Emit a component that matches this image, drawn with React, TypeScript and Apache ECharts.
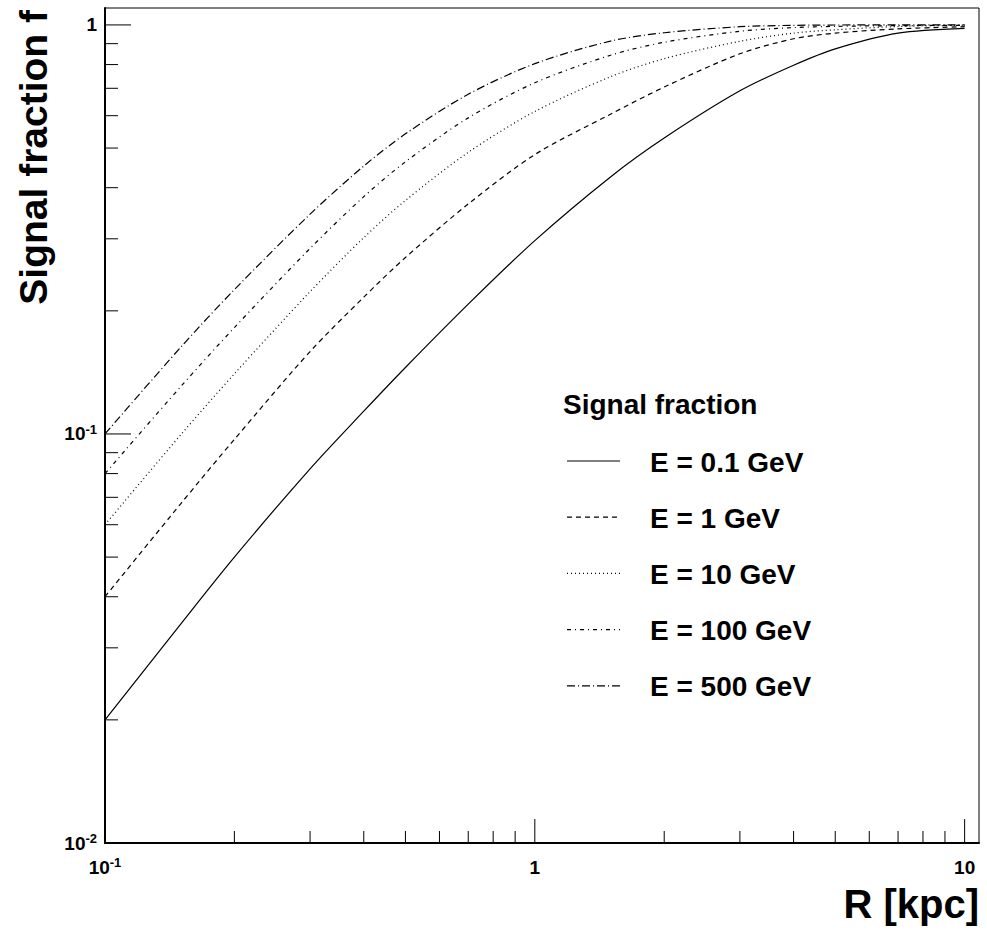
import React, { useEffect, useRef } from "react";
import * as echarts from "echarts";

// ---- data ----
const R = [0.1, 0.15, 0.2, 0.3, 0.4, 0.5, 0.7, 1, 1.5, 2, 3, 4, 5, 7, 10];
const fE01 = [0.02, 0.0343, 0.05, 0.0822, 0.1137, 0.1454, 0.2077, 0.297, 0.425, 0.529, 0.69, 0.797, 0.874, 0.955, 0.981];
const fE1 = [0.04, 0.0675, 0.097, 0.159, 0.216, 0.27, 0.365, 0.482, 0.605, 0.705, 0.85, 0.925, 0.955, 0.978, 0.99];
const fE10 = [0.06, 0.0995, 0.1403, 0.2228, 0.3019, 0.3722, 0.4881, 0.6143, 0.747, 0.827, 0.912, 0.955, 0.973, 0.991, 0.998];
const fE100 = [0.08, 0.1305, 0.182, 0.2842, 0.3803, 0.4628, 0.5926, 0.7221, 0.843, 0.907, 0.965, 0.985, 0.992, 0.996, 0.998];
const fE500 = [0.1, 0.1629, 0.2254, 0.3446, 0.4519, 0.5416, 0.677, 0.804, 0.913, 0.957, 0.99, 0.9977, 0.9995, 1.0, 1.0];
const seriesNames = ["E = 0.1 GeV", "E = 1 GeV", "E = 10 GeV", "E = 100 GeV", "E = 500 GeV"];
const seriesValues = [fE01, fE1, fE10, fE100, fE500];
const legendTitle = "Signal fraction";
const xTitle = "R [kpc]";
const yTitle = "Signal fraction f";
const xMajorTicks = [0.1, 1, 10];
const xMinorTicks = [0.2, 0.3, 0.4, 0.5, 0.6, 0.7, 0.8, 0.9, 2, 3, 4, 5, 6, 7, 8, 9];
const yMajorTicks = [0.01, 0.1, 1];
const yMinorTicks = [0.02, 0.03, 0.04, 0.05, 0.06, 0.07, 0.08, 0.09, 0.2, 0.3, 0.4, 0.5, 0.6, 0.7, 0.8, 0.9];

const X_MIN = 0.1, X_MAX = 10.8, Y_MIN = 0.01, Y_MAX = 1.1;
const FONT = "'Liberation Sans', Arial, Helvetica, sans-serif";
const dashes: (number[] | null)[] = [null, [5, 4], [1, 3], [4, 4, 1, 4], [8, 3, 1, 3]];

function powLabel(v: number): string {
  const lg = Math.log10(v);
  const e = Math.round(lg);
  if (Math.abs(lg - e) > 1e-6) return "";
  if (e === 0) return "{b|1}";
  if (e === 1) return "{b|10}";
  return "{b|10}{s|" + e + "}";
}

const richLabel = {
  b: { fontFamily: FONT, fontWeight: "bold", fontSize: 19, color: "#000", lineHeight: 22 },
  s: { fontFamily: FONT, fontWeight: "bold", fontSize: 13, color: "#000", verticalAlign: "top", lineHeight: 12 },
};

export default function App() {
  const ref = useRef<HTMLDivElement>(null);
  useEffect(() => {
    if (!ref.current) return;
    const chart = echarts.init(ref.current, null, { renderer: "svg" });

    const lineSeries = seriesNames.map((name, i) => ({
      name,
      type: "line",
      data: R.map((r, j) => [r, seriesValues[i][j]]),
      showSymbol: false,
      symbol: "none",
      smooth: 0.3,
      lineStyle: { color: "#000", width: 1.2, type: dashes[i] ? dashes[i] : "solid" },
      z: 3,
    }));

    const xTickData = [
      ...xMajorTicks.map((v) => [v, Y_MIN, 1]),
      ...xMinorTicks.map((v) => [v, Y_MIN, 0]),
    ];
    const yTickData = [
      ...yMajorTicks.map((v) => [X_MIN, v, 1]),
      ...yMinorTicks.map((v) => [X_MIN, v, 0]),
    ];

    const legendX0 = 567, legendX1 = 620, legendTextX = 650, legendY0 = 461, legendDY = 56.2;
    const graphics: any[] = [
      {
        type: "text", x: 33, y: 10, rotation: Math.PI / 2,
        style: { text: yTitle, font: "bold 39px " + FONT, fill: "#000", textAlign: "right", textVerticalAlign: "middle" },
      },
      {
        type: "text", x: 979, y: 904,
        style: { text: xTitle, font: "bold 40px " + FONT, fill: "#000", textAlign: "right", textVerticalAlign: "middle" },
      },
      {
        type: "text", x: 563, y: 404,
        style: { text: legendTitle, font: "bold 28px " + FONT, fill: "#000", textAlign: "left", textVerticalAlign: "middle" },
      },
    ];
    seriesNames.forEach((name, i) => {
      const y = legendY0 + i * legendDY;
      graphics.push({
        type: "line",
        shape: { x1: legendX0, y1: y, x2: legendX1, y2: y },
        style: { stroke: "#000", lineWidth: 1.2, lineDash: dashes[i] || null },
      });
      graphics.push({
        type: "text", x: legendTextX, y: y + 1,
        style: { text: name, font: "bold 28px " + FONT, fill: "#000", textAlign: "left", textVerticalAlign: "middle" },
      });
    });

    chart.setOption({
      animation: false,
      backgroundColor: "#fff",
      grid: {
        left: 105, right: 8, top: 8, bottom: 89,
        show: true, borderColor: "#000", borderWidth: 1, backgroundColor: "transparent",
        containLabel: false, outerBoundsMode: "none",
      },
      xAxis: {
        type: "log", logBase: 10, min: X_MIN, max: X_MAX,
        axisLine: { show: true, lineStyle: { color: "#000", width: 2 } },
        axisTick: { show: false },
        splitLine: { show: false },
        minorTick: { show: false },
        axisLabel: { formatter: powLabel, rich: richLabel, margin: 13, showMaxLabel: true, showMinLabel: true, hideOverlap: false },
      },
      yAxis: {
        type: "log", logBase: 10, min: Y_MIN, max: Y_MAX,
        axisLine: { show: true, lineStyle: { color: "#000", width: 2 } },
        axisTick: { show: false },
        splitLine: { show: false },
        minorTick: { show: false },
        axisLabel: { formatter: powLabel, rich: richLabel, margin: 8, showMaxLabel: true, showMinLabel: true, hideOverlap: false },
      },
      series: [
        ...lineSeries,
        {
          type: "custom",
          coordinateSystem: "cartesian2d",
          data: xTickData,
          silent: true,
          clip: false,
          z: 4,
          renderItem: (params: any, api: any) => {
            const p = api.coord([api.value(0), api.value(1)]);
            const len = api.value(2) ? 24 : 12;
            return {
              type: "line",
              shape: { x1: p[0], y1: p[1], x2: p[0], y2: p[1] - len },
              style: { stroke: "#000", lineWidth: 1 },
            };
          },
        },
        {
          type: "custom",
          coordinateSystem: "cartesian2d",
          data: yTickData,
          silent: true,
          clip: false,
          z: 4,
          renderItem: (params: any, api: any) => {
            const p = api.coord([api.value(0), api.value(1)]);
            const len = api.value(2) ? 26 : 13;
            return {
              type: "line",
              shape: { x1: p[0], y1: p[1], x2: p[0] + len, y2: p[1] },
              style: { stroke: "#000", lineWidth: 1 },
            };
          },
        },
      ],
      graphic: graphics,
    });
    return () => chart.dispose();
  }, []);
  return (
    <div
      ref={ref}
      style={{ position: "fixed", left: 0, top: 0, width: 987, height: 932, background: "#fff" }}
    />
  );
}
